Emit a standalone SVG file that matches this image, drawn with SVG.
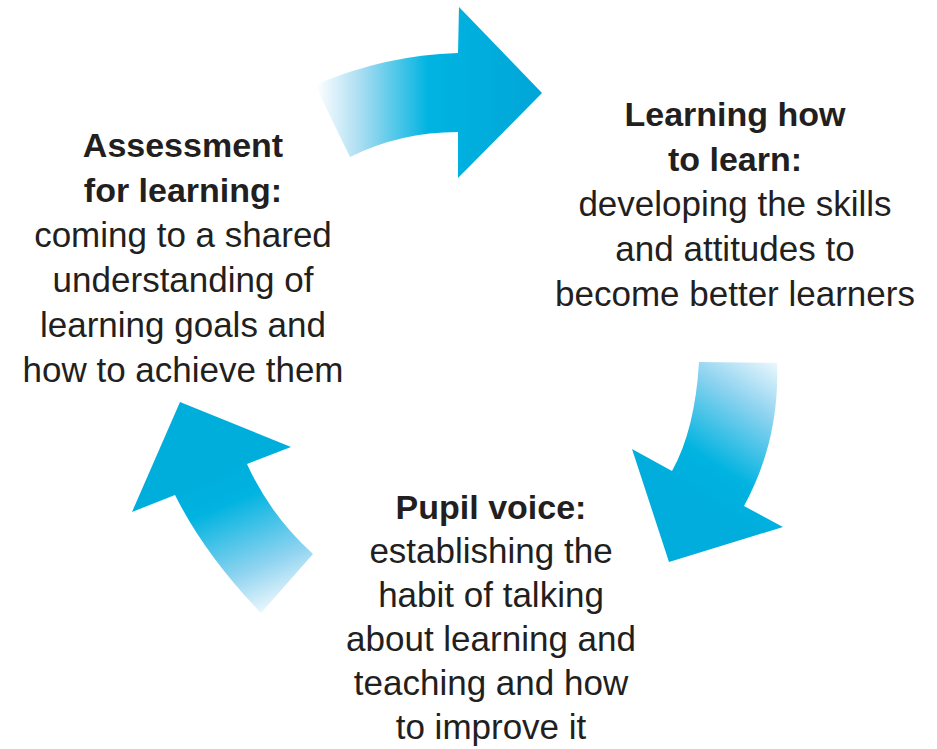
<svg xmlns="http://www.w3.org/2000/svg" width="937" height="749" viewBox="0 0 937 749">
  <defs>
    <linearGradient id="gTop" gradientUnits="userSpaceOnUse" x1="316" y1="0" x2="540" y2="0">
      <stop offset="0" stop-color="#FFFFFF"/>
      <stop offset="0.2" stop-color="#A9DDF2"/>
      <stop offset="0.5" stop-color="#00B4E1"/>
      <stop offset="1" stop-color="#00A6D8"/>
    </linearGradient>
    <linearGradient id="gRight" gradientUnits="userSpaceOnUse" x1="785" y1="355" x2="690" y2="500">
      <stop offset="0" stop-color="#FFFFFF"/>
      <stop offset="0.35" stop-color="#8ED3F0"/>
      <stop offset="0.75" stop-color="#00B3E0"/>
      <stop offset="1" stop-color="#00ADDC"/>
    </linearGradient>
    <linearGradient id="gLeft" gradientUnits="userSpaceOnUse" x1="275" y1="618" x2="215" y2="475">
      <stop offset="0" stop-color="#FFFFFF"/>
      <stop offset="0.35" stop-color="#8ED3F0"/>
      <stop offset="0.8" stop-color="#00B3E0"/>
      <stop offset="1" stop-color="#00AEDC"/>
    </linearGradient>
  </defs>
  <style>
    .t { font-family: "Liberation Sans", Arial, sans-serif; font-size: 35px; fill: #231F20; text-anchor: middle; }
    .b { font-weight: bold; font-size: 34px; }
  </style>
  <rect width="937" height="749" fill="#FFFFFF"/>

  <g id="connectors">
    <path id="arrow-top" fill="url(#gTop)" d="M315,85 Q385,55 458,53 L459,7 L542,93 L458,178 L458,132 Q400,132 350,157 Z"/>
    <path id="arrow-right" fill="url(#gRight)" d="M699,362 Q695,430 672,471 L632,449 L669,562 L783,527 L744,506 Q780,440 777,363 Z"/>
    <path id="arrow-left" fill="url(#gLeft)" d="M261,613 Q205,555 175,495 L132,512 L180,402 L291,447 L247,464 Q270,515 313,554 Z"/>
  </g>

  <g id="node-assessment">
    <text class="t b" x="183" y="157">Assessment</text>
    <text class="t b" x="183" y="202">for learning:</text>
    <text class="t" x="183" y="247">coming to a shared</text>
    <text class="t" x="183" y="292">understanding of</text>
    <text class="t" x="183" y="337">learning goals and</text>
    <text class="t" x="183" y="382">how to achieve them</text>
  </g>

  <g id="node-learning-how">
    <text class="t b" x="735" y="126">Learning how</text>
    <text class="t b" x="735" y="171">to learn:</text>
    <text class="t" x="735" y="216">developing the skills</text>
    <text class="t" x="735" y="261">and attitudes to</text>
    <text class="t" x="735" y="306">become better learners</text>
  </g>

  <g id="node-pupil-voice">
    <text class="t b" x="491" y="519">Pupil voice:</text>
    <text class="t" x="491" y="563">establishing the</text>
    <text class="t" x="491" y="607">habit of talking</text>
    <text class="t" x="491" y="651">about learning and</text>
    <text class="t" x="491" y="695">teaching and how</text>
    <text class="t" x="491" y="739">to improve it</text>
  </g>
</svg>
